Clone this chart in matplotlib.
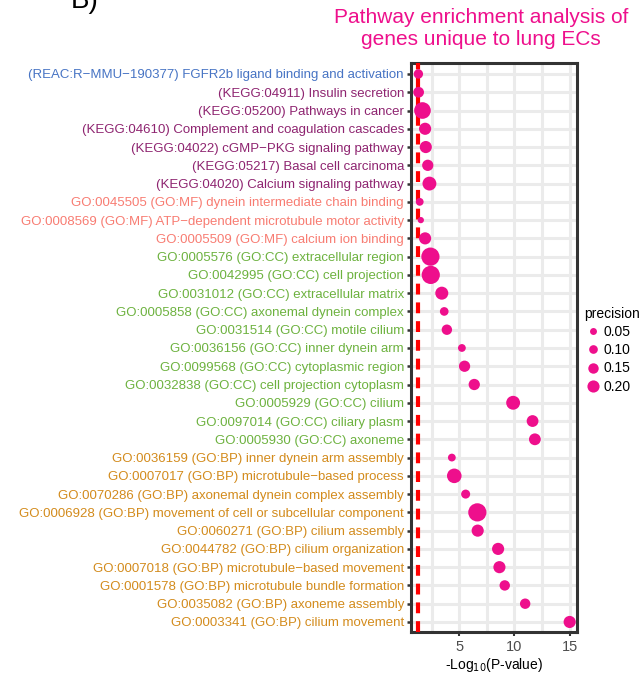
import numpy as np
import matplotlib
matplotlib.use("Agg")
import matplotlib.pyplot as plt
from matplotlib.lines import Line2D

plt.rcParams['font.family'] = ['Liberation Sans', 'DejaVu Sans']

# enriched terms, top to bottom
terms = [
    "(REAC:R\u2212MMU\u2212190377) FGFR2b ligand binding and activation",
    "(KEGG:04911) Insulin secretion",
    "(KEGG:05200) Pathways in cancer",
    "(KEGG:04610) Complement and coagulation cascades",
    "(KEGG:04022) cGMP\u2212PKG signaling pathway",
    "(KEGG:05217) Basal cell carcinoma",
    "(KEGG:04020) Calcium signaling pathway",
    "GO:0045505 (GO:MF) dynein intermediate chain binding",
    "GO:0008569 (GO:MF) ATP\u2212dependent microtubule motor activity",
    "GO:0005509 (GO:MF) calcium ion binding",
    "GO:0005576 (GO:CC) extracellular region",
    "GO:0042995 (GO:CC) cell projection",
    "GO:0031012 (GO:CC) extracellular matrix",
    "GO:0005858 (GO:CC) axonemal dynein complex",
    "GO:0031514 (GO:CC) motile cilium",
    "GO:0036156 (GO:CC) inner dynein arm",
    "GO:0099568 (GO:CC) cytoplasmic region",
    "GO:0032838 (GO:CC) cell projection cytoplasm",
    "GO:0005929 (GO:CC) cilium",
    "GO:0097014 (GO:CC) ciliary plasm",
    "GO:0005930 (GO:CC) axoneme",
    "GO:0036159 (GO:BP) inner dynein arm assembly",
    "GO:0007017 (GO:BP) microtubule\u2212based process",
    "GO:0070286 (GO:BP) axonemal dynein complex assembly",
    "GO:0006928 (GO:BP) movement of cell or subcellular component",
    "GO:0060271 (GO:BP) cilium assembly",
    "GO:0044782 (GO:BP) cilium organization",
    "GO:0007018 (GO:BP) microtubule\u2212based movement",
    "GO:0001578 (GO:BP) microtubule bundle formation",
    "GO:0035082 (GO:BP) axoneme assembly",
    "GO:0003341 (GO:BP) cilium movement",
]
source = ["REAC"] + ["KEGG"] * 6 + ["MF"] * 3 + ["CC"] * 11 + ["BP"] * 10

neg_log_p = [1.30, 1.32, 1.67, 1.91, 1.97, 2.15, 2.30,
             1.42, 1.52, 1.91,
             2.39, 2.42, 3.42, 3.64, 3.88, 5.24, 5.48, 6.36, 9.88, 11.64, 11.85,
             4.33, 4.55, 5.58, 6.64, 6.67, 8.52, 8.64, 9.12, 10.97, 15.0]

precision = [0.12, 0.16, 0.33, 0.20, 0.20, 0.175, 0.25,
             0.075, 0.03, 0.20,
             0.375, 0.375, 0.225, 0.10, 0.15, 0.075, 0.175, 0.175, 0.25, 0.19, 0.19,
             0.075, 0.27, 0.11, 0.375, 0.20, 0.20, 0.20, 0.15, 0.15, 0.20]

legend_breaks = [0.05, 0.10, 0.15, 0.20]

src_colors = {"REAC": "#4774C4", "KEGG": "#8E2470", "MF": "#F87C72",
              "CC": "#6DB23F", "BP": "#D38B1C"}
pink = "#EE0F8C"


def dot_size(p):
    # marker diameter in points for a given precision
    return 1.3 * (4 + 26.7 * np.asarray(p)) * 0.72


fig = plt.figure(figsize=(6.4, 6.74), dpi=100)
ax = fig.add_axes([0.642, 0.0623, 0.26, 0.8442])

y = np.arange(1, len(terms) + 1)

ax.scatter(neg_log_p, y, s=dot_size(precision) ** 2, color=pink, zorder=4,
           linewidths=0)
ax.axvline(-np.log10(0.05), color="#FF0000", linewidth=3,
           linestyle=(0, (2.6, 1.9)), zorder=3)

ax.set_ylim(len(terms) + 0.55, 0.4)
ax.set_xlim(0.62, 15.69)

ax.set_yticks(y)
ax.set_yticklabels(terms, fontsize=9.5)
for lab, src in zip(ax.get_yticklabels(), source):
    lab.set_color(src_colors[src])

ax.set_xticks([5, 10, 15])
ax.set_xticks([2.5, 7.5, 12.5], minor=True)
ax.tick_params(axis="x", which="major", labelsize=10.5, labelcolor="#4D4D4D",
               length=3, width=1.5, color="#333333", pad=3)
ax.tick_params(axis="x", which="minor", length=0)
ax.tick_params(axis="y", length=3, width=1.8, color="#333333", pad=2)

ax.grid(True, which="both", color="#EBEBEB", linewidth=2.2, zorder=0)
ax.set_axisbelow(True)
for sp in ax.spines.values():
    sp.set_linewidth(2.2)
    sp.set_color("#333333")

ax.set_xlabel("-Log$_{10}$(P-value)", fontsize=10, labelpad=1)

fig.text(0.752, 1 - 8 / 674, "Pathway enrichment analysis of\ngenes unique to lung ECs",
         ha="center", va="top", fontsize=15, color=pink, linespacing=1.2)
fig.text(0.133, 1 - 8 / 674, "B)", fontsize=20, ha="center", va="baseline")

handles = [Line2D([], [], marker="o", linestyle="", color=pink,
                  markersize=float(dot_size(b)), markeredgewidth=0)
           for b in legend_breaks]
leg = fig.legend(handles, ["%.2f" % b for b in legend_breaks], title="precision",
                 loc="upper left", bbox_to_anchor=(0.897, 0.559), frameon=False,
                 fontsize=10, title_fontsize=10, labelspacing=0.3,
                 handletextpad=0.1, handlelength=1.3, borderpad=0.2)
leg._legend_box.align = "left"

fig.savefig("out.png", dpi=100)
